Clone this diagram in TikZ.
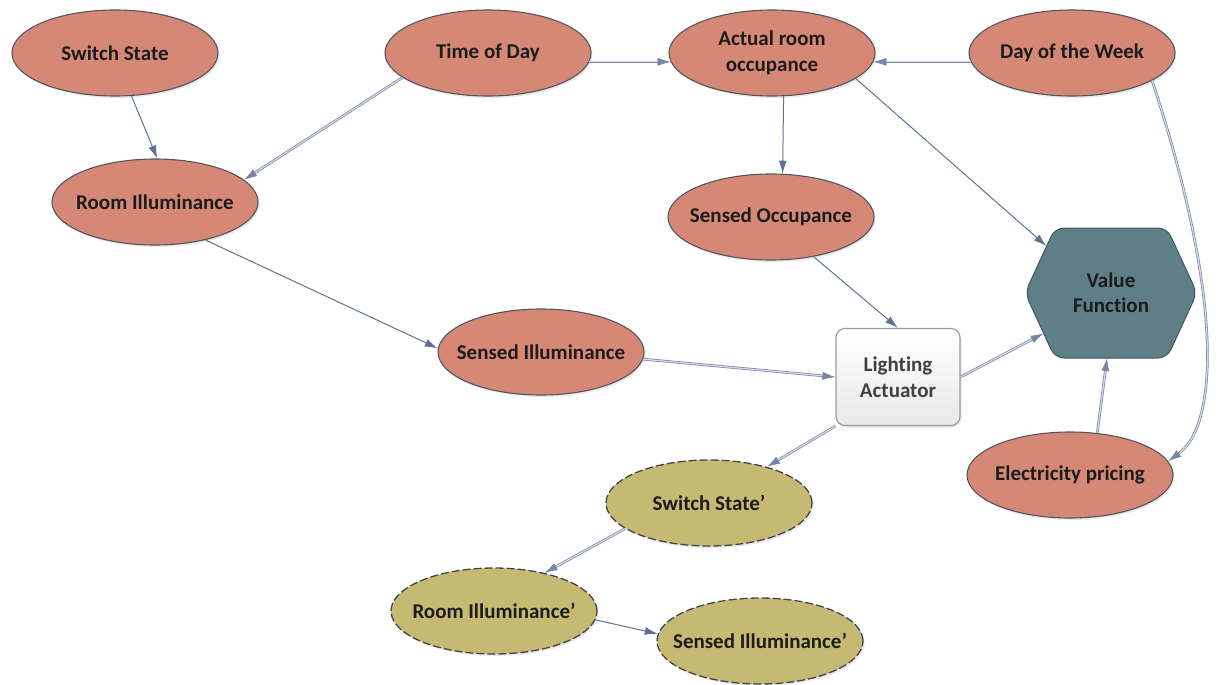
\documentclass[tikz,border=0pt]{standalone}
\usepackage{fontspec}
\setmainfont{Carlito}[Ligatures=NoCommon]
\usetikzlibrary{shapes,backgrounds,positioning,arrows.meta,shadows,calc}

\definecolor{salmon}{RGB}{214,136,118}
\definecolor{khaki}{RGB}{198,186,114}
\definecolor{slate}{RGB}{94,126,136}
\definecolor{edgec}{RGB}{96,112,150}
\definecolor{rim}{RGB}{85,85,98}
\definecolor{ink}{RGB}{28,28,28}

\tikzset{
  var/.style={ellipse, draw=rim, line width=1.1pt, fill=salmon,
    minimum width=206pt, minimum height=86pt, inner xsep=-20pt, inner ysep=0pt,
    align=center, text=ink, font=\fontsize{21}{26}\selectfont\bfseries,
    drop shadow={opacity=0.18, shadow xshift=1.5pt, shadow yshift=-2pt}},
  nextvar/.style={var, fill=khaki, draw=rim!80!black, line width=1.3pt, dash pattern=on 8pt off 3pt},
  actbox/.style={rectangle, rounded corners=9pt, draw=rim!60, line width=1.1pt,
    top color=white, bottom color=gray!18, minimum width=124pt, minimum height=97pt,
    align=center, text=black!75, font=\fontsize{21}{26}\selectfont\bfseries,
    drop shadow={opacity=0.18, shadow xshift=1.5pt, shadow yshift=-2pt}},
  hexbox/.style={draw=slate!70!black, line width=1pt, fill=slate, rounded corners=9pt},
  link/.style={draw=edgec, line width=1pt, -{Latex[length=13pt,width=8pt]}},
  dlink/.style={draw=edgec!85, line width=0.7pt, double=edgec!25, double distance=1.2pt,
    -{Latex[length=13pt,width=8pt]}},
}

\begin{document}
\begin{tikzpicture}[x=1pt,y=-1pt]
\useasboundingbox (0,0) rectangle (1223,685);
% chance nodes
\node[var] (sw) at (115,53) {Switch State};
\node[var] (td) at (488,53) {Time of Day};
\node[var] (occ) at (772,53) {Actual room\\occupance};
\node[var] (dow) at (1072,53) {Day of the Week};
\node[var] (ri) at (155,202) {Room Illuminance};
\node[var] (so) at (771,217) {Sensed Occupance};
\node[var] (si) at (541,352) {Sensed Illuminance};
\node[var] (ep) at (1070,475) {Electricity pricing};
% decision and utility
\node[actbox] (la) at (898,377) {Lighting\\Actuator};
\node[minimum width=172pt, minimum height=130pt, outer sep=0pt, align=center,
  text=ink, font=\fontsize{21}{25}\selectfont\bfseries] (vf) at (1111,293) {Value\\Function};
% next state
\node[nextvar] (sw2) at (709,503) {Switch State'};
\node[nextvar] (ri2) at (494,611) {Room Illuminance'};
\node[nextvar] (si2) at (760,641) {Sensed Illuminance'};
\begin{scope}[on background layer]
\draw[hexbox] (vf.west) -- ($(vf.north west)+(30,0)$) -- ($(vf.north east)+(-30,0)$)
  -- (vf.east) -- ($(vf.south east)+(-30,0)$) -- ($(vf.south west)+(30,0)$) -- cycle;
\end{scope}
\coordinate (vfA) at ($(vf.west)!0.72!($(vf.north west)+(30,0)$)$);
\coordinate (vfB) at ($(vf.west)!0.62!($(vf.south west)+(30,0)$)$);
\coordinate (vfC) at ($(vf.south)+(-4,0)$);
% links
\path[link] (sw.-69) -- (ri.87);
\path[dlink] (td.196) -- (ri.14);
\path[dlink] (td.-5) -- (occ.185);
\path[dlink] (dow.185) -- (occ.-5);
\path[link] (occ.-75) -- (so.75);
\path[link] (occ.-17) -- (vfA);
\path[dlink] (dow.-19) .. controls (1224,300) and (1218,425) .. (ep.8);
\path[link] (ri.-37) -- (si.178);
\path[dlink] (si.-4) -- (la.west);
\path[link] (so.-43) -- (la.north);
\path[dlink] (la.east) -- (vfB);
\path[dlink] (ep.57) -- (vfC);
\path[dlink] (la.south west) -- (sw2.32);
\path[dlink] (sw2.197) -- (ri2.37);
\path[link] (ri2.-5) -- (si2.176);
\end{tikzpicture}
\end{document}
